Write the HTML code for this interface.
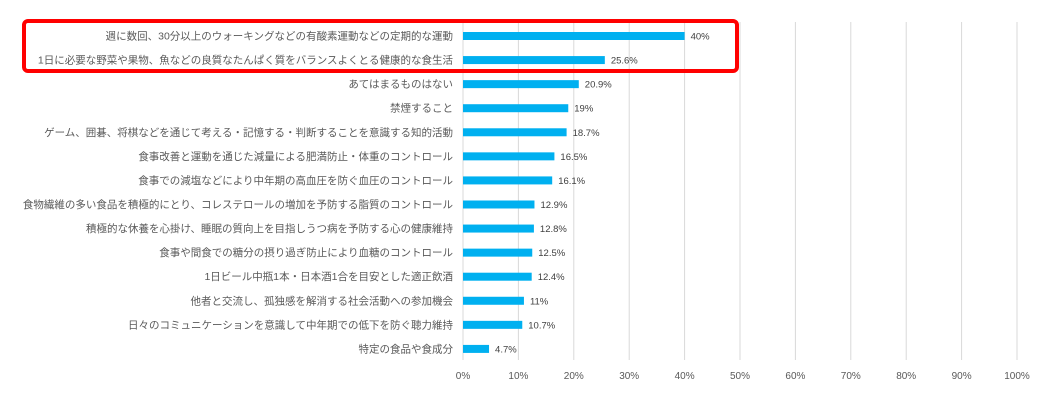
<!DOCTYPE html>
<html><head><meta charset="utf-8"><style>
body{margin:0;background:#fff;width:1050px;height:400px;overflow:hidden;font-family:"Liberation Sans","Noto Sans CJK JP",sans-serif}
</style></head><body>
<svg id="chart" width="1050" height="400" xmlns="http://www.w3.org/2000/svg"></svg>
<script>
const categories=["週に数回、30分以上のウォーキングなどの有酸素運動などの定期的な運動","1日に必要な野菜や果物、魚などの良質なたんぱく質をバランスよくとる健康的な食生活","あてはまるものはない","禁煙すること","ゲーム、囲碁、将棋などを通じて考える・記憶する・判断することを意識する知的活動","食事改善と運動を通じた減量による肥満防止・体重のコントロール","食事での減塩などにより中年期の高血圧を防ぐ血圧のコントロール","食物繊維の多い食品を積極的にとり、コレステロールの増加を予防する脂質のコントロール","積極的な休養を心掛け、睡眠の質向上を目指しうつ病を予防する心の健康維持","食事や間食での糖分の摂り過ぎ防止により血糖のコントロール","1日ビール中瓶1本・日本酒1合を目安とした適正飲酒","他者と交流し、孤独感を解消する社会活動への参加機会","日々のコミュニケーションを意識して中年期での低下を防ぐ聴力維持","特定の食品や食成分"];
const values=[40,25.6,20.9,19,18.7,16.5,16.1,12.9,12.8,12.5,12.4,11,10.7,4.7];
const ticks=[0,10,20,30,40,50,60,70,80,90,100];
const NS="http://www.w3.org/2000/svg",svg=document.getElementById('chart');
const x0=463,x1=1017,yTop=22,step=24.07;
const xs=v=>x0+(x1-x0)*v/100;
const yc=i=>36+i*step;
function mk(t,a,p){const e=document.createElementNS(NS,t);for(const k in a)e.setAttribute(k,a[k]);(p||svg).appendChild(e);return e;}
ticks.forEach(t=>{
 const g=mk('line',{x1:xs(t),x2:xs(t),y1:yTop,y2:360,stroke:'#d9d9d9','stroke-width':1});
 
 
 const l=mk('text',{x:xs(t),y:379,'text-anchor':'middle','font-size':10,fill:'#595959'});
 l.textContent=t+'%';
 
 
});
categories.forEach((c,i)=>{
 const y=yc(i);
 const t=mk('text',{x:453,y:y+3.5,'text-anchor':'end','font-size':10.5,fill:'#595959'});
 t.textContent=c;
 
 
 const b=mk('rect',{x:x0,y:y-4,width:xs(values[i])-x0,height:8,fill:'#00b0f0'});
 
 
 const v=mk('text',{x:xs(values[i])+6,y:y+3.5,'font-size':9.5,fill:'#404040'});
 v.textContent=values[i]+'%';
 
 
});
const r=mk('rect',{x:24,y:21,width:713,height:50,rx:4,fill:'none',stroke:'#ff0000','stroke-width':4});


</script>
</body></html>
